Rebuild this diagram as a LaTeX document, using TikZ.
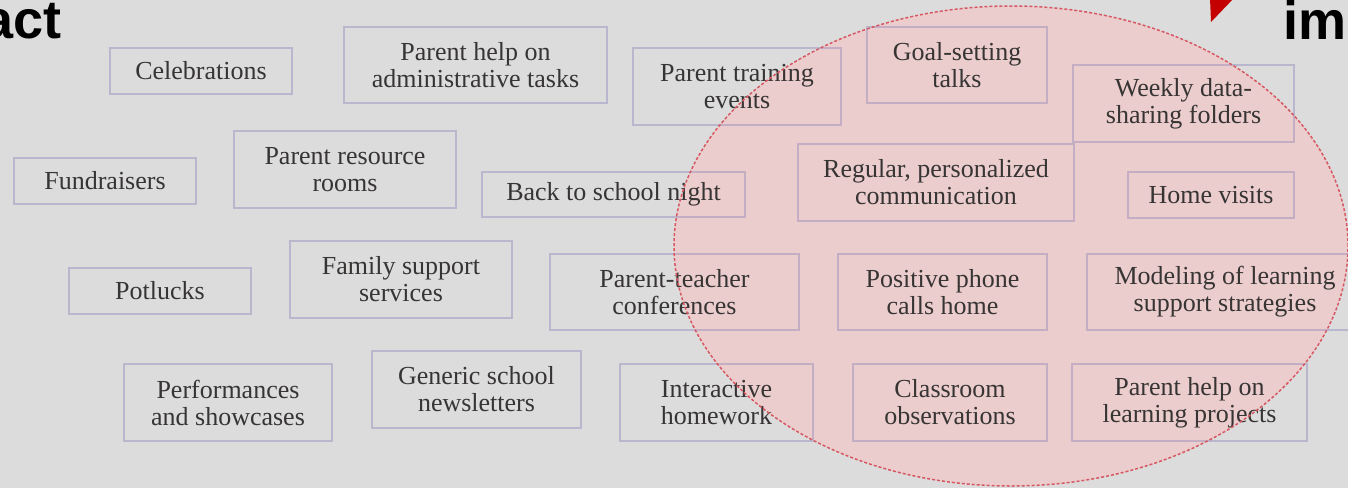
\documentclass[tikz,border=0pt]{standalone}
\usepackage{fontspec}
\setmainfont{Liberation Serif}
\newfontfamily\titlefont{Liberation Sans}
\definecolor{bg}{RGB}{220,220,220}
\definecolor{boxline}{RGB}{129,124,183}
\definecolor{txt}{RGB}{55,52,52}
\definecolor{pinkfill}{RGB}{236,205,205}
\definecolor{dashred}{RGB}{214,88,98}
\definecolor{arrowred}{RGB}{196,0,0}
\tikzset{
  itembox/.style={draw=boxline, draw opacity=0.375, line width=2pt, text=txt, align=center, inner sep=0pt,
    font=\fontsize{26}{27}\selectfont},
  titletext/.style={inner sep=0pt, text=black, font=\titlefont\bfseries\fontsize{54}{54}\selectfont},
}
\begin{document}
\begin{tikzpicture}[x=1pt,y=-1pt]
\useasboundingbox (0,0) rectangle (1348,488);
\fill[bg] (0,0) rectangle (1348,488);
\clip (0,0) rectangle (1348,488);

% high-impact ellipse (fill)
\fill[pinkfill] (1011,246) ellipse [x radius=337pt, y radius=240pt];

% titles
\node[titletext, anchor=base east] (titleL) at (62,38) {act};
\node[titletext, anchor=base west] (titleR) at (1283,39) {im};
\fill[arrowred] (1210,-2) -- (1234,-2) -- (1211,22) -- cycle;

% row 1
\node[itembox, minimum width=182pt, minimum height=46pt] (celeb) at (201,71) {Celebrations};
\node[itembox, minimum width=263pt, minimum height=76pt] (adminhelp) at (475.5,65) {Parent help on\\administrative tasks};
\node[itembox, minimum width=208pt, minimum height=77pt] (training) at (737,86.5) {Parent training\\events};
\node[itembox, minimum width=180pt, minimum height=76pt] (goal) at (957,65) {Goal-setting\\talks};
\node[itembox, minimum width=221pt, minimum height=77pt] (weekly) at (1183.5,103.5) {Weekly data-\\sharing folders};

% row 2
\node[itembox, minimum width=182pt, minimum height=46pt] (fund) at (105,181) {Fundraisers};
\node[itembox, minimum width=222pt, minimum height=77pt] (resource) at (345,169.5) {Parent resource\\rooms};
\node[itembox, minimum width=263pt, minimum height=45pt] (backschool) at (613.5,194.5) {Back to school night};
\node[itembox, minimum width=276pt, minimum height=77pt] (regular) at (936,182.5) {Regular, personalized\\communication};
\node[itembox, minimum width=166pt, minimum height=46pt] (home) at (1211,195) {Home visits};

% row 3
\node[itembox, minimum width=182pt, minimum height=46pt] (potluck) at (160,291) {Potlucks};
\node[itembox, minimum width=222pt, minimum height=77pt] (family) at (401,279.5) {Family support\\services};
\node[itembox, minimum width=249pt, minimum height=76pt] (ptconf) at (674.5,292) {Parent-teacher\\conferences};
\node[itembox, minimum width=209pt, minimum height=76pt] (phone) at (942.5,292) {Positive phone\\calls home};
\node[itembox, minimum width=276pt, minimum height=76pt] (modeling) at (1225,292) {Modeling of learning\\support strategies};

% row 4
\node[itembox, minimum width=208pt, minimum height=77pt] (perform) at (228,402.5) {Performances\\and showcases};
\node[itembox, minimum width=209pt, minimum height=77pt] (newsletter) at (476.5,389.5) {Generic school\\newsletters};
\node[itembox, minimum width=193pt, minimum height=77pt] (interactive) at (716.5,402.5) {Interactive\\homework};
\node[itembox, minimum width=194pt, minimum height=77pt] (classroom) at (950,402.5) {Classroom\\observations};
\node[itembox, minimum width=235pt, minimum height=77pt] (learnhelp) at (1189.5,402.5) {Parent help on\\learning projects};

% high-impact ellipse (outline)
\draw[draw=dashred, line width=1.5pt, dash pattern=on 3pt off 2pt] (1011,246) ellipse [x radius=337pt, y radius=240pt];
\end{tikzpicture}
\end{document}
